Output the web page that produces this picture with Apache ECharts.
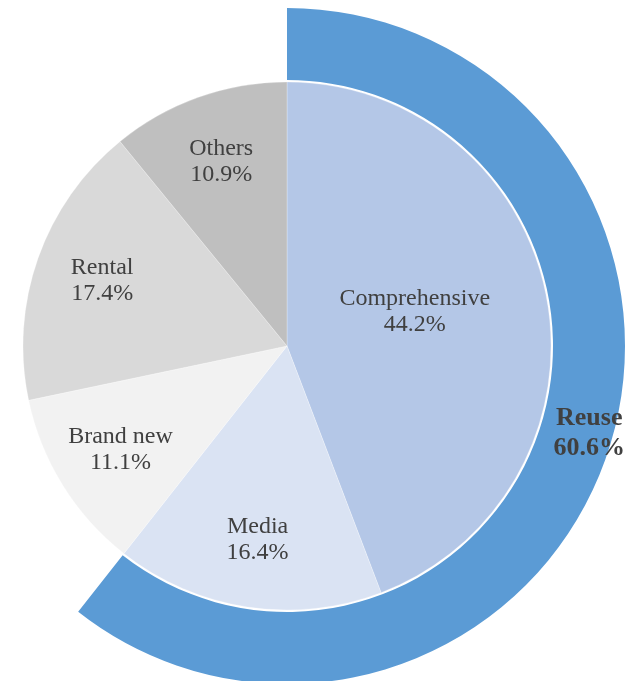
<!DOCTYPE html>
<html>
<head>
<meta charset="utf-8">
<script src="https://cdn.jsdelivr.net/npm/echarts@6/dist/echarts.min.js"></script>
<style>
  html, body { margin: 0; padding: 0; background: #fff; }
  #chart { width: 628px; height: 681px; }
</style>
</head>
<body>
<div id="chart"></div>
<script>
// inner pie
const names = ['Comprehensive', 'Media', 'Brand new', 'Rental', 'Others'];
const shares = [44.2, 16.4, 11.1, 17.4, 10.9];
const colors = ['#B4C7E7', '#DAE3F3', '#F2F2F2', '#D9D9D9', '#BFBFBF'];

// outer ring: Reuse, then the uncovered rest
const ringNames = ['Reuse', ''];
const ringShares = [60.6, 39.4];

const font = '"Liberation Serif", "Times New Roman", serif';
const center = [287, 346];

const myChart = echarts.init(document.getElementById('chart'));

const labelText = {
  color: '#404040',
  fontFamily: font,
  fontSize: 24,
  lineHeight: 26,
  formatter: function (p) { return p.name + '\n' + p.value + '%'; }
};

const option = {
  animation: false,
  series: [
    {
      type: 'pie',
      center: center,
      radius: [266, 338],
      startAngle: 90,
      silent: true,
      emphasis: { disabled: true },
      labelLine: { show: false },
      data: ringNames.map(function (n, i) {
        return {
          name: n,
          value: ringShares[i],
          itemStyle: { color: i === 0 ? '#5B9BD5' : 'transparent' },
          label: {
            show: i === 0,
            position: 'inside',
            offset: [14, -12],
            color: '#404040',
            fontFamily: font,
            fontSize: 26,
            fontWeight: 'bold',
            lineHeight: 30,
            formatter: function (p) { return p.name + '\n' + p.value + '%'; }
          }
        };
      })
    },
    {
      type: 'pie',
      center: center,
      radius: [0, 264],
      startAngle: 90,
      silent: true,
      emphasis: { disabled: true },
      labelLine: { show: false },
      itemStyle: { borderColor: 'rgba(255,255,255,0.5)', borderWidth: 0.5 },
      label: Object.assign({ position: 'inside', offset: [-5, -10] }, labelText),
      data: names.map(function (n, i) {
        return {
          name: n,
          value: shares[i],
          itemStyle: { color: colors[i] },
          label: { show: i === 0 }
        };
      })
    },
    {
      // label-only layer so the smaller slices get their text further out
      type: 'pie',
      center: center,
      radius: [122, 264],
      startAngle: 90,
      silent: true,
      z: 3,
      emphasis: { disabled: true },
      labelLine: { show: false },
      itemStyle: { color: 'transparent', borderWidth: 0 },
      label: Object.assign({ position: 'inside' }, labelText),
      data: names.map(function (n, i) {
        return {
          name: n,
          value: shares[i],
          label: { show: i !== 0 }
        };
      })
    }
  ]
};

myChart.setOption(option);
</script>
</body>
</html>
